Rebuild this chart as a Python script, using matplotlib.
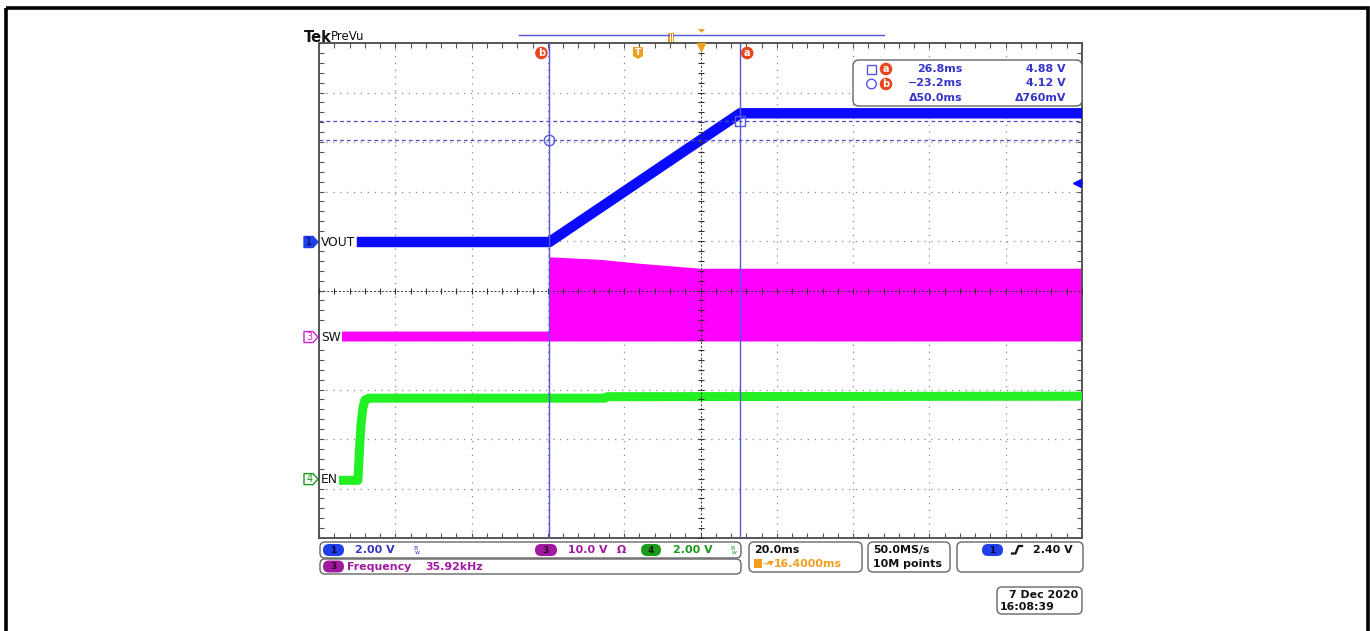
import matplotlib
matplotlib.use('Agg')
import matplotlib.pyplot as plt
import numpy as np
from matplotlib.patches import FancyBboxPatch, Rectangle, Polygon, Circle

# ---------------- data ----------------
TIME_PER_DIV = 20.0          # ms / div
H_CENTER = 16.4              # ms, trigger -> screen centre
CH1_SCALE, CH3_SCALE, CH4_SCALE = 2.0, 10.0, 2.0      # V / div
CH1_OFFSET, CH3_OFFSET, CH4_OFFSET = 0.98, -0.94, -3.81  # ground position, div

vout_t = [-73.7, -23.2, 26.8, 116.4]
vout_v = [0.0, 0.0, 5.2, 5.2]

sw_t  = [-78.2, -23.2, -23.2, -10.0, 0.5, 16.3, 116.4]
sw_hi = [1.2, 1.2, 16.2, 15.7, 14.9, 13.9, 13.9]
sw_lo = [-0.8, -0.8, -0.8, -0.8, -0.8, -0.8, -0.8]

en_t = [-78.4, -73.4, -73.0, -72.6, -72.1, -71.6, -70.5, -8.7, -8.0, 116.4]
en_v = [-0.05, -0.05, 1.17, 2.18, 2.87, 3.19, 3.27, 3.27, 3.33, 3.35]

cursor_a_t, cursor_b_t = 26.8, -23.2      # ms
cursor_a_v, cursor_b_v = 4.88, 4.12       # V (ch1)
trigger_t = 0.0
trigger_level = 2.40                      # V (ch1)

ch_labels = ["VOUT", "SW", "EN"]
readout_rows = [("26.8ms", "4.88 V"), ("\u221223.2ms", "4.12 V"), ("\u039450.0ms", "\u0394760mV")]

# ---------------- colours ----------------
C_VOUT = '#0a0aff'
C_SW = '#ff00ff'
C_EN = '#22f022'
C_CUR = '#5656e0'
C_TXT = '#3434c8'
C_ORANGE = '#f0a020'
C_RED = '#e8461e'
C_PURPLE = '#a01aa0'
C_GREEN = '#1a9a1a'

W, H = 1370, 631
L, R, T, B = 319, 1082, 43, 538

fig = plt.figure(figsize=(W / 100, H / 100), dpi=100)
fig.patch.set_facecolor('white')

ax = fig.add_axes([L / W, (H - B) / H, (R - L) / W, (B - T) / H])
xmin, xmax = H_CENTER - 5 * TIME_PER_DIV, H_CENTER + 5 * TIME_PER_DIV
ax.set_xlim(xmin, xmax)
ax.set_ylim(-5, 5)


def d1(v):
    return CH1_OFFSET + np.asarray(v, float) / CH1_SCALE


def d3(v):
    return CH3_OFFSET + np.asarray(v, float) / CH3_SCALE


def d4(v):
    return CH4_OFFSET + np.asarray(v, float) / CH4_SCALE


# graticule
for k in range(-4, 5):
    if k != 0:
        ax.axvline(H_CENTER + k * TIME_PER_DIV, color='#8a8a8a', lw=0.9, ls=(0, (1, 4.5)), zorder=0)
        ax.axhline(k, color='#8a8a8a', lw=0.9, ls=(0, (1, 4.5)), zorder=0)
ax.axhline(0, color='#333333', lw=0.7, ls=(0, (2, 2)), zorder=5)
ax.axvline(H_CENTER, color='#333333', lw=0.7, ls=(0, (2, 2)), zorder=5)
mx = H_CENTER + np.arange(-25, 26) * TIME_PER_DIV / 5
my = np.arange(-25, 26) / 5
ax.plot(mx, np.zeros_like(mx), ls='none', marker='|', ms=5, mew=0.8, color='#333333', zorder=5)
ax.plot(np.full_like(my, H_CENTER), my, ls='none', marker='_', ms=5, mew=0.8, color='#333333', zorder=5)

ax.set_xticks(H_CENTER + np.arange(-5, 6) * TIME_PER_DIV)
ax.set_yticks(np.arange(-5, 6))
ax.set_xticks(mx, minor=True)
ax.set_yticks(my, minor=True)
ax.tick_params(which='both', direction='in', top=True, right=True, length=3.5,
               width=0.8, color='#555555', labelbottom=False, labelleft=False)
for s in ax.spines.values():
    s.set_color('#555555')
    s.set_linewidth(1.4)

# waveforms
ax.fill_between(sw_t, d3(sw_lo), d3(sw_hi), color=C_SW, lw=0, zorder=2)
ax.plot(en_t, d4(en_v), color=C_EN, lw=6.5, solid_capstyle='butt', zorder=3)
ax.plot(vout_t, d1(vout_v), color=C_VOUT, lw=7.5, solid_capstyle='butt', zorder=4)

# cursors
for tc in (cursor_a_t, cursor_b_t):
    ax.axvline(tc, color=C_CUR, lw=1.0, zorder=6)
for vc in (cursor_a_v, cursor_b_v):
    ax.axhline(d1(vc), color='#4a4ad0', lw=0.9, ls=(0, (3, 2.5)), zorder=6)
ax.plot([cursor_b_t], [d1(cursor_b_v)], marker='o', mfc='none', mec=C_CUR, ms=7.5, mew=1.0, zorder=6)
ax.plot([cursor_a_t], [d1(cursor_a_v)], marker='s', mfc='none', mec=C_CUR, ms=6.5, mew=1.0, zorder=6)

# trigger position / level markers
ax.plot([H_CENTER], [4.92], marker='v', color=C_ORANGE, ms=6, clip_on=False, zorder=7)
ax.plot([xmax - 1.3], [d1(trigger_level)], marker='<', color=C_VOUT, ms=5.5, clip_on=False, zorder=7)
ax.plot([xmax - 1.3, xmax], [d1(trigger_level)] * 2, color=C_VOUT, lw=1.2, clip_on=False, zorder=7)

# ---------------- overlay in pixel coordinates ----------------
ov = fig.add_axes([0, 0, 1, 1])
ov.set_xlim(0, W)
ov.set_ylim(H, 0)
ov.axis('off')
ov.patch.set_alpha(0)
ov.set_zorder(ax.get_zorder() + 1)


def px(t):
    return L + (t - xmin) / (xmax - xmin) * (R - L)


def py(dv):
    return T + (5 - dv) / 10 * (B - T)


FONT = 'DejaVu Sans'
FS = 7.9
FW = 'bold'

# outer frame
ov.add_patch(Rectangle((6, 8), 1362, 640, fill=False, ec='black', lw=2.6, clip_on=False))

# header
ov.text(304, 37, "Tek", fontsize=10.5, fontweight='bold', family=FONT, va='center', ha='left', color='#111111')
ov.text(331, 36, "PreVu", fontsize=8.5, family=FONT, va='center', ha='left', color='#111111')
ov.plot([519, 884], [35, 35], color=C_CUR, lw=1.0)
ov.add_patch(Rectangle((668, 33), 6, 9, fc=C_ORANGE, ec='none'))
ov.plot([670, 670], [34, 41], color='white', lw=0.7)
ov.plot([672, 672], [34, 41], color='white', lw=0.7)
ov.add_patch(Polygon([[698, 29], [705, 29], [701.5, 33]], closed=True, fc=C_ORANGE, ec='none'))


# cursor badges
def badge(x, y, letter):
    ov.add_patch(Circle((x, y), 6.3, fc=C_RED, ec='none'))
    ov.text(x, y + 0.3, letter, fontsize=7, fontweight='bold', family=FONT, color='white', ha='center', va='center')


badge(px(cursor_b_t) - 8, 53, 'b')
badge(px(cursor_a_t) + 7, 53, 'a')
xt = px(trigger_t)
ov.add_patch(Polygon([[xt - 5, 47], [xt + 5, 47], [xt + 5, 56], [xt, 59], [xt - 5, 56]], closed=True,
                     fc=C_ORANGE, ec='none'))
ov.text(xt, 52.5, 'T', fontsize=6.5, fontweight='bold', family=FONT, color='white', ha='center', va='center')

# readout box
ov.add_patch(FancyBboxPatch((853, 60), 229, 46, boxstyle='round,pad=0,rounding_size=6',
                            fc='white', ec='#666666', lw=1.0))
ov.add_patch(Rectangle((867, 64.5), 9, 9, fill=False, ec=C_CUR, lw=1.0))
ov.add_patch(Circle((871.5, 84), 4.8, fill=False, ec=C_CUR, lw=1.0))
badge(886, 69, 'a')
badge(886, 84, 'b')
for i, (tt, vv) in enumerate(readout_rows):
    y = 69 + i * 14.5
    ov.text(963, y, tt, fontsize=FS, fontweight=FW, family=FONT, color=C_TXT, ha='right', va='center')
    ov.text(1066, y, vv, fontsize=FS, fontweight=FW, family=FONT, color=C_TXT, ha='right', va='center')


# channel labels
def ch_marker(y, num, col, filled, name):
    ov.add_patch(Polygon([[304, y - 5.5], [313, y - 5.5], [318, y], [313, y + 5.5], [304, y + 5.5]],
                         closed=True, fc=col if filled else 'white', ec=col, lw=1.0))
    ov.text(309.5, y + 0.3, num, fontsize=7, family=FONT, color='#000050' if filled else col,
            ha='center', va='center')
    ov.text(321, y + 0.5, name, fontsize=8.8, family=FONT, color='#111111', ha='left', va='center',
            bbox=dict(fc='white', ec='none', pad=0.6))


ch_marker(py(CH1_OFFSET), '1', '#1f3fe8', True, ch_labels[0])
ch_marker(py(CH3_OFFSET), '3', '#d020d0', False, ch_labels[1])
ch_marker(py(CH4_OFFSET), '4', C_GREEN, False, ch_labels[2])


# bottom info boxes
def rbox(x0, y0, x1, y1):
    ov.add_patch(FancyBboxPatch((x0, y0), x1 - x0, y1 - y0, boxstyle='round,pad=0,rounding_size=5',
                                fc='white', ec='#666666', lw=1.0, clip_on=False))


def pill(x0, x1, y, col, txt, tcol='#000040'):
    ov.add_patch(FancyBboxPatch((x0, y - 6), x1 - x0, 12, boxstyle='round,pad=0,rounding_size=6',
                                fc=col, ec='none'))
    ov.text((x0 + x1) / 2, y + 0.3, txt, fontsize=6.5, fontweight='bold', family=FONT, color=tcol,
            ha='center', va='center')


def bw(x, y, col):
    ov.text(x, y - 2, 'B', fontsize=4.3, family=FONT, color=col, ha='center', va='center')
    ov.text(x + 2, y + 2, 'w', fontsize=4.3, family=FONT, color=col, ha='center', va='center')


def txt(x, y, s, col, ha='left'):
    ov.text(x, y, s, fontsize=FS, fontweight=FW, family=FONT, color=col, ha=ha, va='center')


rbox(320, 542, 741, 558)
rbox(320, 559, 741, 574)
pill(323, 344, 550, '#1f3fe8', '1')
txt(355, 550, "2.00 V", C_TXT)
bw(415, 550, C_TXT)
pill(535, 557, 550, C_PURPLE, '3', '#300030')
txt(568, 550, "10.0 V", C_PURPLE)
txt(617, 550, "\u03a9", C_PURPLE)
pill(641, 661, 550, C_GREEN, '4', '#002000')
txt(673, 550, "2.00 V", C_GREEN)
bw(732, 550, C_GREEN)
pill(323, 344, 566.5, C_PURPLE, '3', '#300030')
txt(347, 566.5, "Frequency", C_PURPLE)
txt(425, 566.5, "35.92kHz", C_PURPLE)

rbox(749, 542, 862, 572)
txt(754, 550, "20.0ms", '#111111')
ov.add_patch(Rectangle((754, 559), 8, 9, fc=C_ORANGE, ec='none'))
ov.text(766, 563.5, "\u2192", fontsize=5.5, family=FONT, color=C_ORANGE, ha='center', va='center')
ov.add_patch(Polygon([[767.5, 561], [774, 561], [770.7, 566]], closed=True, fc=C_ORANGE, ec='none'))
txt(774, 564, "16.4000ms", C_ORANGE)

rbox(868, 542, 950, 572)
txt(873, 550, "50.0MS/s", '#111111')
txt(873, 564, "10M points", '#111111')

rbox(957, 542, 1083, 572)
pill(982, 1003, 550, '#1f3fe8', '1')
ov.plot([1012, 1015.5, 1018.5, 1022], [553.5, 553.5, 546, 546], color='#111111', lw=1.6)
txt(1073, 550, "2.40 V", '#111111', ha='right')

rbox(997, 587, 1082, 614)
txt(1078, 595.5, "7 Dec 2020", '#111111', ha='right')
txt(1000, 606.5, "16:08:39", '#111111')

fig.savefig('out.png', dpi=100, facecolor='white')
